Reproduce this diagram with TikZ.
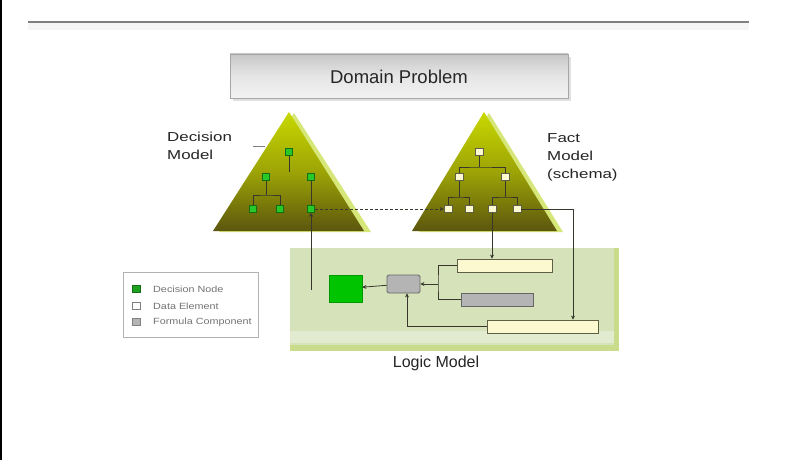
\documentclass[tikz,border=0pt]{standalone}
\usepackage{fontspec}
\setmainfont{Liberation Sans}
\newfontfamily\wfont[FakeStretch=1.3]{Liberation Sans}
\newfontfamily\lfont[FakeStretch=1.2]{Liberation Sans}
\usetikzlibrary{arrows.meta,calc}
\definecolor{trtop}{RGB}{200,216,0}
\definecolor{trbot}{RGB}{92,86,14}
\definecolor{trshadow}{RGB}{214,230,120}
\definecolor{conn}{RGB}{55,55,45}
\definecolor{dgreen}{RGB}{40,200,40}
\definecolor{dgreenb}{RGB}{20,110,20}
\definecolor{cream}{RGB}{252,249,208}
\definecolor{creamb}{RGB}{95,95,70}
\definecolor{fgray}{RGB}{180,180,180}
\definecolor{logicfill}{RGB}{214,226,186}
\definecolor{logicedge}{RGB}{200,220,140}
\definecolor{bigbox}{RGB}{0,196,0}
\tikzset{
  dnode/.style={draw=dgreenb,fill=dgreen,minimum width=7pt,minimum height=7pt,inner sep=0pt,line width=0.5pt},
  fnode/.style={draw=creamb,fill=cream,minimum width=8pt,minimum height=7pt,inner sep=0pt,line width=0.6pt},
  cbar/.style={draw=creamb,fill=cream,inner sep=0pt,line width=0.8pt},
  gbar/.style={draw=black!60,fill=fgray,inner sep=0pt,line width=0.8pt},
  wire/.style={draw=conn,line width=0.8pt},
  arr/.style={wire,-{Stealth[length=4pt,width=4pt]}},
  label/.style={font=\wfont\fontsize{13}{18}\selectfont,text=black!85,align=left,inner sep=0pt},
  legtext/.style={font=\lfont\fontsize{9}{11}\selectfont,text=black!55,anchor=west,inner sep=0pt},
}
\begin{document}
\begin{tikzpicture}[x=1pt,y=-1pt]
\useasboundingbox (0,0) rectangle (796,460);
\fill[white] (0,0) rectangle (796,460);
% frame line and header rule
\draw[line width=2.5pt,black] (1.2,0) -- (1.2,460);
\fill[black!4] (28,23) rectangle (749,30);
\draw[line width=1.6pt,black!50] (28,22) -- (749,22);

% Domain Problem box
\fill[black!12] (233,57) rectangle (571,101);
\shade[top color=black!22,bottom color=black!5,middle color=black!10,draw=black!35,line width=0.6pt] (230,54) rectangle (568,98);
\node[font=\fontsize{18.5}{22}\selectfont,text=black!85] (dp) at (399,77) {Domain Problem};

% triangles
\fill[trshadow] (294,113) -- (371,232) -- (219,232) -- cycle;
\shade[top color=trtop,bottom color=trbot,middle color=trtop!60!trbot] (289,112) -- (364,231) -- (213,231) -- cycle;
\fill[trshadow] (489,113) -- (563,232) -- (419,232) -- cycle;
\shade[top color=trtop,bottom color=trbot,middle color=trtop!60!trbot] (484,112) -- (557,231) -- (412,231) -- cycle;

% labels
\node[label,anchor=north west] (dm) at (167,132) {Decision\\Model};
\draw[black!50,line width=0.6pt] (253,146) -- (265,146);
\node[label,anchor=north west] (fm) at (547,133) {Fact\\Model\\(schema)};

% logic model box
\fill[logicedge] (290,248) rectangle (619,351);
\fill[logicfill] (290,248) rectangle (614,345);
\fill[logicfill!70!white] (290,331) rectangle (614,343);
\node[font=\fontsize{16}{19}\selectfont,text=black!85] (lm) at (436,363) {Logic Model};

% decision model nodes
\node[dnode] (d1) at (289,152) {};
\node[dnode] (d2) at (266,177) {};
\node[dnode] (d3) at (311,177) {};
\node[dnode] (d4) at (253,209) {};
\node[dnode] (d5) at (280,209) {};
\node[dnode] (d6) at (311,209) {};
\coordinate (d1e) at (289,172);
\coordinate (dbj) at (266,195);
\draw[wire] (d1) -- (d1e);
\draw[wire] (d2) -- (dbj);
\draw[wire] (d4) |- (dbj) -| (d5);
\draw[wire] (d3) -- (d6);

% fact model nodes
\node[fnode] (f1) at (479,152) {};
\node[fnode] (f2) at (459,177) {};
\node[fnode] (f3) at (505,177) {};
\node[fnode] (f4) at (448,209) {};
\node[fnode] (f5) at (469,209) {};
\node[fnode] (f6) at (492,209) {};
\node[fnode] (f7) at (517,209) {};
\coordinate (fa) at (479,167);
\coordinate (fb) at (459,197);
\coordinate (fc) at (505,197);
\draw[wire] (f1) -- (fa);
\draw[wire] (f2) |- (fa) -| (f3);
\draw[wire] (f2) -- (fb);
\draw[wire] (f4) |- (fb) -| (f5);
\draw[wire] (f3) -- (fc);
\draw[wire] (f6) |- (fc) -| (f7);

% logic model elements
\node[draw=black!40!green,fill=bigbox,minimum width=33pt,minimum height=27pt,inner sep=0pt,line width=0.6pt] (g) at (345.5,288.5) {};
\node[gbar,rounded corners=1.5pt,minimum width=33pt,minimum height=18pt] (fo) at (403.5,284) {};
\node[cbar,minimum width=95pt,minimum height=13pt] (b1) at (504.5,265.5) {};
\node[gbar,minimum width=72pt,minimum height=13pt] (b2) at (497,299.5) {};
\node[cbar,minimum width=111pt,minimum height=13pt] (b3) at (542.5,326.5) {};

% connectors
\coordinate (lv) at (311,290);
\draw[arr] (lv) -- (d6);
\draw[arr,dashed,dash pattern=on 3pt off 2pt] (d6) -- (f4);
\draw[arr] (f6) -- (f6 |- b1.north);
\coordinate (kx) at (573,0);
\draw[arr] (f7) -| (b3.north -| kx);
\draw[arr] (fo) -- (g);
\coordinate (br) at (438,284);
\draw[wire] (b1.west) -| (br) |- (b2.west);
\draw[arr] (br) -- (fo);
\coordinate (ux) at (407,0);
\draw[arr] (b3.west) -| (fo.south -| ux);

% legend
\node[draw=black!30,line width=0.6pt,minimum width=135pt,minimum height=65pt,inner sep=0pt] (leg) at (190.5,304.5) {};
\node[draw=dgreenb,fill=dgreen!80!black,minimum width=8pt,minimum height=7pt,inner sep=0pt] (l1) at (136,289) {};
\node[draw=black!50,fill=white,minimum width=8pt,minimum height=7pt,inner sep=0pt] (l2) at (136,306) {};
\node[draw=black!50,fill=fgray,minimum width=8pt,minimum height=7pt,inner sep=0pt] (l3) at (136,322) {};
\node[legtext] (t1) at (153,289) {Decision Node};
\node[legtext] (t2) at (153,306) {Data Element};
\node[legtext] (t3) at (153,322) {Formula Component};
\end{tikzpicture}
\end{document}
